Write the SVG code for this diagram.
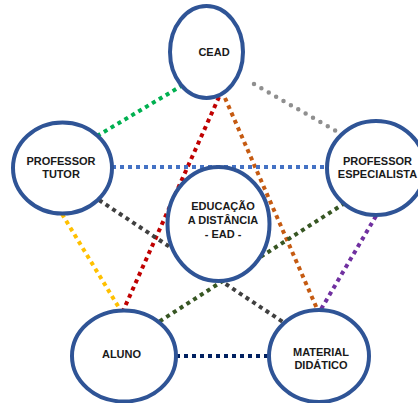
<svg xmlns="http://www.w3.org/2000/svg" width="418" height="403" viewBox="0 0 418 403">
<style>
.node{fill:#fff;stroke:#2F5496;stroke-width:4}
.lbl{font-family:"Liberation Sans",Arial,sans-serif;font-weight:bold;font-size:11px;fill:#1a1a1a;text-anchor:middle}
.c{fill:none;stroke-width:4;stroke-dasharray:4 4}
</style>
<rect width="418" height="403" fill="#fff"/>
<g id="connectors">
<line class="c" x1="183" y1="85" x2="97" y2="136" stroke="#00B050"/>
<line x1="254" y1="84" x2="343" y2="135" stroke="#8F8F8F" stroke-width="4.5" stroke-linecap="round" stroke-dasharray="0 8.5" fill="none"/>
<line class="c" x1="219" y1="97" x2="123" y2="311" stroke="#C00000"/>
<line class="c" x1="225" y1="98" x2="318" y2="311" stroke="#C55A11"/>
<line class="c" x1="112" y1="167" x2="327" y2="167" stroke="#4472C4"/>
<line class="c" x1="99" y1="200" x2="283" y2="322" stroke="#404040"/>
<line class="c" x1="62" y1="214" x2="121" y2="311" stroke="#FFC000"/>
<line class="c" x1="345" y1="203" x2="157" y2="323" stroke="#375623"/>
<line class="c" x1="376" y1="216" x2="320" y2="311" stroke="#7030A0"/>
<line class="c" x1="176" y1="356" x2="269" y2="356" stroke="#002060"/>
</g>
<g id="cead">
<ellipse class="node" cx="206.5" cy="52" rx="36.5" ry="46"/>
<text class="lbl" x="214" y="56">CEAD</text>
</g>
<g id="professor-tutor">
<ellipse class="node" cx="62.5" cy="168" rx="49.5" ry="45.5"/>
<text class="lbl" x="61" y="165">PROFESSOR</text>
<text class="lbl" x="61" y="178">TUTOR</text>
</g>
<g id="professor-especialista">
<ellipse class="node" cx="376" cy="168" rx="49" ry="47"/>
<text class="lbl" x="377.5" y="165">PROFESSOR</text>
<text class="lbl" x="377.5" y="178">ESPECIALISTA</text>
</g>
<g id="ead">
<ellipse class="node" cx="218.5" cy="224" rx="51" ry="57"/>
<text class="lbl" x="223" y="210">EDUCAÇÃO</text>
<text class="lbl" x="223" y="224">A DISTÂNCIA</text>
<text class="lbl" x="223" y="238">- EAD -</text>
</g>
<g id="aluno">
<ellipse class="node" cx="124" cy="356" rx="52" ry="45.5"/>
<text class="lbl" x="121.5" y="358">ALUNO</text>
</g>
<g id="material">
<ellipse class="node" cx="319" cy="356" rx="50" ry="46"/>
<text class="lbl" x="321" y="356">MATERIAL</text>
<text class="lbl" x="321" y="369">DIDÁTICO</text>
</g>
</svg>
